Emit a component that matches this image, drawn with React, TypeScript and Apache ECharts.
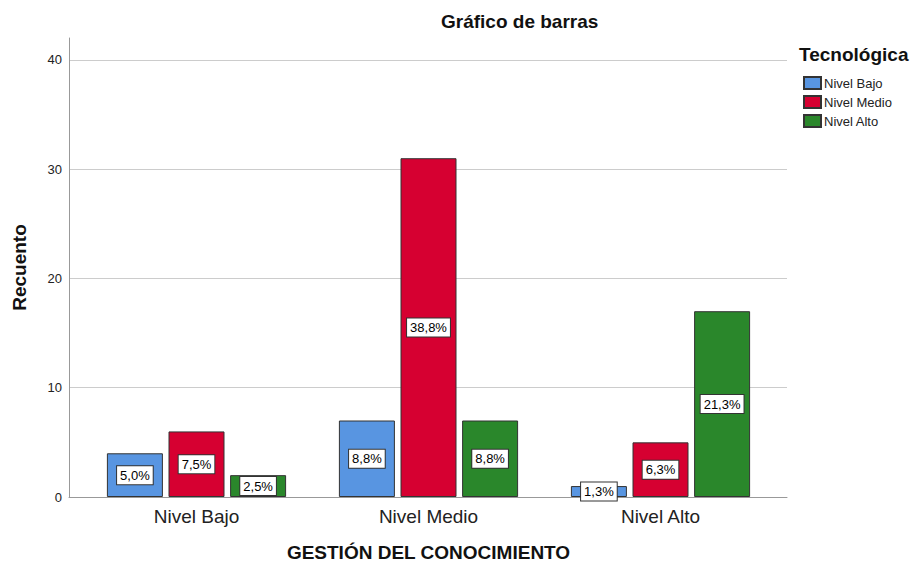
import React, { useEffect, useRef } from "react";
import * as echarts from "echarts";

const categories = ["Nivel Bajo", "Nivel Medio", "Nivel Alto"];
const seriesNames = ["Nivel Bajo", "Nivel Medio", "Nivel Alto"];
const bajoCounts = [4, 7, 1];
const medioCounts = [6, 31, 5];
const altoCounts = [2, 7, 17];
const bajoPct = ["5,0%", "8,8%", "1,3%"];
const medioPct = ["7,5%", "38,8%", "6,3%"];
const altoPct = ["2,5%", "8,8%", "21,3%"];
const yMax = 42;
const yInterval = 10;

const FONT = "'Liberation Sans', Arial, sans-serif";
const colors = ["#5895E1", "#D60031", "#2A872B"];

export default function App() {
  const ref = useRef<HTMLDivElement>(null);
  useEffect(() => {
    if (!ref.current) return;
    const chart = echarts.init(ref.current, null, { renderer: "svg" });
    const counts = [bajoCounts, medioCounts, altoCounts];
    const pcts = [bajoPct, medioPct, altoPct];
    const barSeries = seriesNames.map((name, i) => ({
      name,
      type: "bar",
      xAxisIndex: 0,
      yAxisIndex: 0,
      data: counts[i],
      barWidth: 56,
      barGap: "10%",
      itemStyle: { color: colors[i], borderColor: "#333", borderWidth: 1 },
      label: {
        show: true,
        position: "inside",
        formatter: (p: any) => pcts[i][p.dataIndex],
        backgroundColor: "#fff",
        borderColor: "#333",
        borderWidth: 1,
        padding: [3, 3, 2, 3],
        fontSize: 13,
        fontFamily: FONT,
        color: "#000",
      },
    }));
    chart.setOption({
      animation: false,
      backgroundColor: "#fff",
      textStyle: { fontFamily: FONT },
      title: [
        {
          text: "Gráfico de barras",
          left: 441,
          top: 12,
          padding: 0,
          textStyle: { fontSize: 19, fontWeight: "bold", color: "#111", fontFamily: FONT },
        },
        {
          text: "Tecnológica",
          left: 799,
          top: 45,
          padding: 0,
          textStyle: { fontSize: 19, fontWeight: "bold", color: "#111", fontFamily: FONT },
        },
      ],
      legend: {
        data: seriesNames,
        orient: "vertical",
        left: 803,
        top: 76,
        padding: 0,
        itemWidth: 17,
        itemHeight: 12,
        itemGap: 5,
        icon: "rect",
        textStyle: { fontSize: 13, color: "#222", fontFamily: FONT, padding: [0, 0, 0, -2], lineHeight: 14 },
      },
      grid: [
        { left: 80.5, right: 141.5, top: 38, bottom: 66, outerBoundsMode: "none", containLabel: false },
        { left: 69, right: 131, top: 38, bottom: 66, outerBoundsMode: "none", containLabel: false },
      ],
      xAxis: [
        {
          type: "category",
          gridIndex: 0,
          data: categories,
          axisLine: { show: false },
          axisTick: { show: false },
          axisLabel: { fontSize: 19, color: "#222", margin: 10, fontFamily: FONT },
          name: "GESTIÓN DEL CONOCIMIENTO",
          nameLocation: "middle",
          nameGap: 46,
          nameTextStyle: { fontSize: 19, fontWeight: "bold", color: "#111", fontFamily: FONT },
        },
        {
          type: "category",
          gridIndex: 1,
          data: categories,
          axisLine: { show: true, lineStyle: { color: "#999", width: 1 } },
          axisTick: { show: false },
          axisLabel: { show: false },
        },
      ],
      yAxis: [
        { type: "value", gridIndex: 0, min: 0, max: yMax, interval: yInterval, show: false },
        {
          type: "value",
          gridIndex: 1,
          min: 0,
          max: yMax,
          interval: yInterval,
          axisLine: { show: true, lineStyle: { color: "#999", width: 1 } },
          axisTick: { show: false },
          axisLabel: {
            fontSize: 13,
            color: "#222",
            margin: 7,
            fontFamily: FONT,
            formatter: (v: number) => (v % yInterval === 0 ? String(v) : ""),
          },
          splitLine: {
            show: true,
            lineStyle: {
              color: ["#cccccc", "#cccccc", "#cccccc", "#cccccc", "#cccccc", "rgba(0,0,0,0)"],
              width: 1,
            },
          },
          name: "Recuento",
          nameLocation: "middle",
          nameRotate: 90,
          nameGap: 40,
          nameTextStyle: { fontSize: 19, fontWeight: "bold", color: "#111", fontFamily: FONT },
        },
      ],
      series: [
        ...barSeries,
        {
          name: "_frame",
          type: "bar",
          xAxisIndex: 1,
          yAxisIndex: 1,
          data: [null, null, null],
          silent: true,
        },
      ],
    });
    return () => chart.dispose();
  }, []);
  return (
    <div
      ref={ref}
      style={{ position: "fixed", left: 0, top: 0, width: 918, height: 563 }}
    />
  );
}
